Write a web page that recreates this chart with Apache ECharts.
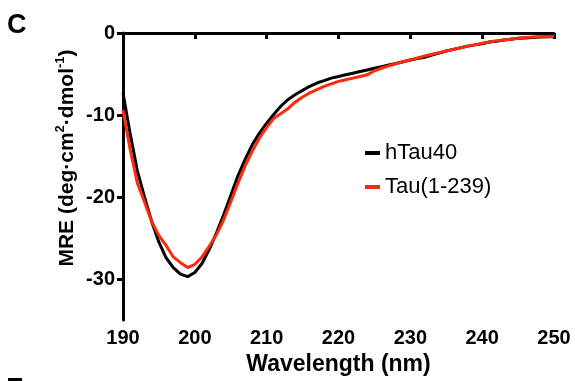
<!DOCTYPE html>
<html>
<head>
<meta charset="utf-8">
<style>
  html, body { margin: 0; padding: 0; background: #fff; }
  #chart { width: 575px; height: 381px; }
</style>
<script src="https://cdn.jsdelivr.net/npm/echarts@6/dist/echarts.min.js"></script>
</head>
<body>
<div id="chart"></div>
<script>
// Far-UV CD spectra: mean residue ellipticity vs wavelength
const wavelength = [
  190, 191, 192, 193, 194, 195, 196, 197, 198, 199,
  200, 201, 202, 203, 204, 205, 206, 207, 208, 209,
  210, 211, 212, 213, 214, 215, 216, 217, 218, 219,
  220, 221, 222, 223, 224, 225, 226, 227, 228, 229,
  230, 231, 232, 233, 234, 235, 236, 237, 238, 239,
  240, 241, 242, 243, 244, 245, 246, 247, 248, 249, 250
];

const hTau40 = [
  -7.3, -12.3, -16.8, -20.0, -23.0, -25.5, -27.4, -28.6, -29.4, -29.7,
  -29.2, -28.1, -26.4, -24.4, -22.2, -19.8, -17.4, -15.4, -13.6, -12.2,
  -11.0, -9.9, -8.9, -8.1, -7.5, -7.0, -6.5, -6.1, -5.8, -5.5,
  -5.3, -5.1, -4.9, -4.7, -4.5, -4.3, -4.1, -3.9, -3.7, -3.5,
  -3.3, -3.1, -2.95, -2.7, -2.45, -2.2, -2.0, -1.8, -1.6, -1.45,
  -1.3, -1.1, -1.0, -0.85, -0.75, -0.65, -0.6, -0.55, -0.5, -0.45, -0.45
];

const tau1to239 = [
  -9.4, -14.2, -18.3, -20.6, -23.0, -24.7, -25.9, -27.3, -28.0, -28.6,
  -28.2, -27.3, -26.0, -24.6, -22.8, -20.6, -18.3, -16.2, -14.4, -12.8,
  -11.5, -10.4, -9.8, -9.2, -8.4, -7.8, -7.3, -6.9, -6.5, -6.2,
  -5.9, -5.7, -5.5, -5.3, -5.1, -4.6, -4.3, -4.0, -3.75, -3.5,
  -3.3, -3.05, -2.8, -2.6, -2.4, -2.2, -2.0, -1.8, -1.6, -1.45,
  -1.25, -1.1, -0.95, -0.85, -0.75, -0.65, -0.55, -0.5, -0.45, -0.45, -0.4
];

const yTickValues = [0, -10, -20, -30];
const seriesNames = ['hTau40', 'Tau(1-239)'];
const seriesColors = ['#000000', '#fb2a0c'];

const FONT = '"Liberation Sans", Arial, sans-serif';

function pairs(xs, ys) {
  return xs.map((x, i) => [x, ys[i]]);
}

const chart = echarts.init(document.getElementById('chart'), null, { renderer: 'canvas' });

const axisLine = { show: true, lineStyle: { color: '#000', width: 3 } };
const axisTick = { show: true, length: 6, lineStyle: { color: '#000', width: 3 } };
const tickLabel = { color: '#000', fontFamily: FONT, fontWeight: 'bold', fontSize: 20, margin: 8 };

chart.setOption({
  animation: false,
  backgroundColor: '#fff',
  grid: { left: 123, right: 21, top: 33, bottom: 60, containLabel: false },
  xAxis: {
    type: 'value',
    min: 190,
    max: 250,
    interval: 10,
    axisLine: axisLine,
    axisTick: axisTick,
    axisLabel: tickLabel,
    splitLine: { show: false },
    name: 'Wavelength (nm)',
    nameLocation: 'middle',
    nameGap: 31,
    nameTextStyle: { color: '#000', fontFamily: FONT, fontWeight: 'bold', fontSize: 23 }
  },
  yAxis: {
    type: 'value',
    min: -35,
    max: 0,
    axisLine: axisLine,
    axisTick: Object.assign({}, axisTick, { customValues: yTickValues }),
    axisLabel: Object.assign({}, tickLabel, { customValues: yTickValues }),
    splitLine: { show: false }
  },
  legend: {
    orient: 'vertical',
    left: 365,
    top: 142,
    padding: 0,
    itemWidth: 15,
    itemHeight: 4,
    itemGap: 12,
    icon: 'rect',
    data: seriesNames,
    textStyle: { color: '#000', fontFamily: FONT, fontSize: 22 }
  },
  graphic: [
    {
      type: 'text',
      left: 7,
      top: 12,
      style: { text: 'C', fill: '#000', fontFamily: FONT, fontWeight: 'bold', fontSize: 27 }
    },
    {
      type: 'text',
      x: 66,
      y: 158,
      rotation: Math.PI / 2,
      style: {
        text: '{m|MRE (deg·cm}{s|2}{m|·dmol}{s|-1}{m|)}',
        align: 'center',
        verticalAlign: 'middle',
        rich: {
          m: { fontFamily: FONT, fontWeight: 'bold', fontSize: 21, fill: '#000', lineHeight: 24, verticalAlign: 'bottom' },
          s: { fontFamily: FONT, fontWeight: 'bold', fontSize: 13, fill: '#000', lineHeight: 24, verticalAlign: 'top', padding: [0, 0, 6, 0] }
        }
      }
    },
    {
      // edge of the following panel's letter, clipped at the bottom
      type: 'rect',
      left: 8,
      top: 378,
      shape: { width: 14, height: 3 },
      style: { fill: '#000' }
    }
  ],
  series: [
    {
      name: seriesNames[0],
      type: 'line',
      data: pairs(wavelength, hTau40),
      showSymbol: false,
      symbol: 'none',
      color: seriesColors[0],
      lineStyle: { color: seriesColors[0], width: 3 },
      z: 2
    },
    {
      name: seriesNames[1],
      type: 'line',
      data: pairs(wavelength, tau1to239),
      showSymbol: false,
      symbol: 'none',
      color: seriesColors[1],
      lineStyle: { color: seriesColors[1], width: 3 },
      z: 3
    }
  ]
});
</script>
</body>
</html>
